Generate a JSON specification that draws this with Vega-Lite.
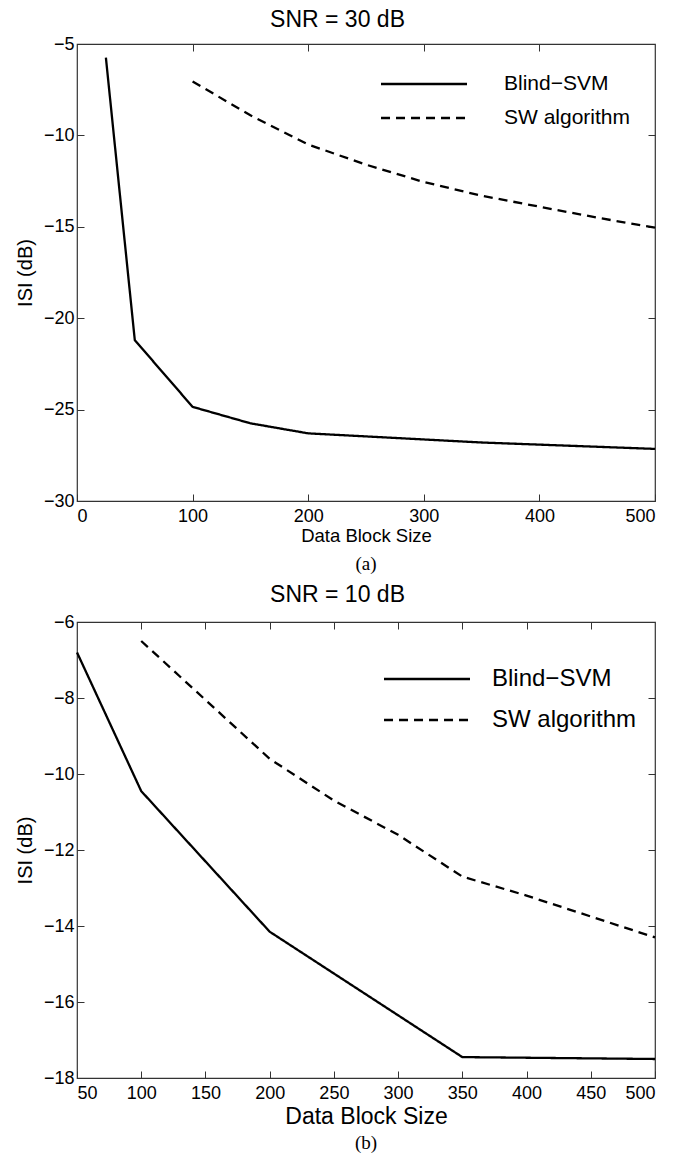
{
  "$schema": "https://vega.github.io/schema/vega-lite/v6.json",
  "background": "white",
  "padding": {"left": 14, "top": 9, "right": 5, "bottom": 0},
  "spacing": 9,
  "config": {
    "font": "Liberation Sans",
    "view": {"stroke": "#333333", "strokeWidth": 1.2},
    "axis": {
      "grid": false,
      "domain": false,
      "tickColor": "#333333",
      "tickSize": -7,
      "labelColor": "black",
      "titleColor": "black",
      "labelFontSize": 18,
      "titleFontWeight": "normal",
      "labelFont": "Liberation Sans",
      "titleFont": "Liberation Sans"
    },
    "legend": {
      "labelFont": "Liberation Sans",
      "labelColor": "black"
    },
    "title": {"font": "Liberation Sans", "fontWeight": "normal", "color": "black", "anchor": "middle"}
  },
  "resolve": {"scale": {"strokeDash": "independent"}, "legend": {"strokeDash": "independent"}},
  "vconcat": [
    {
      "title": {"text": "SNR = 30 dB", "fontSize": 23, "offset": 2, "anchor": "middle"},
      "vconcat": [
        {
          "title": {"text": "(a)", "orient": "bottom", "font": "Liberation Serif", "fontSize": 19, "offset": 10, "anchor": "middle"},
          "width": 578,
          "height": 457,
          "data": {"values": [
            {"size": 25, "isi": -5.75, "method": "Blind−SVM"},
            {"size": 50, "isi": -21.2, "method": "Blind−SVM"},
            {"size": 100, "isi": -24.85, "method": "Blind−SVM"},
            {"size": 150, "isi": -25.75, "method": "Blind−SVM"},
            {"size": 200, "isi": -26.3, "method": "Blind−SVM"},
            {"size": 350, "isi": -26.8, "method": "Blind−SVM"},
            {"size": 500, "isi": -27.15, "method": "Blind−SVM"},
            {"size": 100, "isi": -7.05, "method": "SW algorithm"},
            {"size": 150, "isi": -8.9, "method": "SW algorithm"},
            {"size": 200, "isi": -10.5, "method": "SW algorithm"},
            {"size": 250, "isi": -11.6, "method": "SW algorithm"},
            {"size": 300, "isi": -12.55, "method": "SW algorithm"},
            {"size": 350, "isi": -13.3, "method": "SW algorithm"},
            {"size": 400, "isi": -13.9, "method": "SW algorithm"},
            {"size": 450, "isi": -14.5, "method": "SW algorithm"},
            {"size": 500, "isi": -15.05, "method": "SW algorithm"}
          ]},
          "layer": [
            {
              "mark": {"type": "line", "color": "black", "strokeWidth": 2.3},
              "encoding": {
                "x": {"field": "size", "type": "quantitative",
                      "scale": {"domain": [0, 500], "nice": false, "zero": false},
                      "axis": {"title": "Data Block Size", "values": [0, 100, 200, 300, 400, 500], "titleFontSize": 18.5, "titlePadding": 1, "labelPadding": 13}},
                "y": {"field": "isi", "type": "quantitative",
                      "scale": {"domain": [-30, -5], "nice": false, "zero": false},
                      "axis": {"title": "ISI (dB)", "values": [-30, -25, -20, -15, -10, -5], "titleFontSize": 20, "titlePadding": 8, "labelPadding": 10}},
                "strokeDash": {"field": "method", "type": "nominal",
                      "scale": {"domain": ["Blind−SVM", "SW algorithm"], "range": [[1, 0], [9, 6]]},
                      "legend": {"title": null, "orient": "none", "legendX": 335, "legendY": 28,
                                 "symbolType": "M-4,0H4", "symbolSize": 462, "symbolStrokeWidth": 2.3,
                                 "symbolStrokeColor": "black", "labelFontSize": 21, "labelOffset": 68,
                                 "rowPadding": 12}}
              }
            },
            {
              "mark": {"type": "line", "strokeOpacity": 0},
              "encoding": {
                "x": {"field": "size", "type": "quantitative",
                      "axis": {"orient": "top", "labels": false, "title": null, "values": [100, 200, 300, 400]}},
                "y": {"field": "isi", "type": "quantitative",
                      "axis": {"orient": "right", "labels": false, "title": null, "values": [-25, -20, -15, -10]}}
              }
            }
          ],
          "resolve": {"axis": {"x": "independent", "y": "independent"}}
        }
      ]
    },
    {
      "title": {"text": "SNR = 10 dB", "fontSize": 23, "offset": 5, "anchor": "middle"},
      "vconcat": [
        {
          "title": {"text": "(b)", "orient": "bottom", "font": "Liberation Serif", "fontSize": 19, "offset": 6, "anchor": "middle"},
          "width": 578,
          "height": 456,
          "data": {"values": [
            {"size": 50, "isi": -6.8, "method": "Blind−SVM"},
            {"size": 100, "isi": -10.45, "method": "Blind−SVM"},
            {"size": 200, "isi": -14.15, "method": "Blind−SVM"},
            {"size": 350, "isi": -17.45, "method": "Blind−SVM"},
            {"size": 500, "isi": -17.5, "method": "Blind−SVM"},
            {"size": 100, "isi": -6.5, "method": "SW algorithm"},
            {"size": 150, "isi": -8.05, "method": "SW algorithm"},
            {"size": 200, "isi": -9.6, "method": "SW algorithm"},
            {"size": 250, "isi": -10.7, "method": "SW algorithm"},
            {"size": 300, "isi": -11.6, "method": "SW algorithm"},
            {"size": 350, "isi": -12.7, "method": "SW algorithm"},
            {"size": 400, "isi": -13.2, "method": "SW algorithm"},
            {"size": 450, "isi": -13.75, "method": "SW algorithm"},
            {"size": 500, "isi": -14.3, "method": "SW algorithm"}
          ]},
          "layer": [
            {
              "mark": {"type": "line", "color": "black", "strokeWidth": 2.3},
              "encoding": {
                "x": {"field": "size", "type": "quantitative",
                      "scale": {"domain": [50, 500], "nice": false, "zero": false},
                      "axis": {"title": "Data Block Size", "values": [50, 100, 150, 200, 250, 300, 350, 400, 450, 500], "titleFontSize": 23, "titlePadding": 3, "labelPadding": 13}},
                "y": {"field": "isi", "type": "quantitative",
                      "scale": {"domain": [-18, -6], "nice": false, "zero": false},
                      "axis": {"title": "ISI (dB)", "values": [-18, -16, -14, -12, -10, -8, -6], "titleFontSize": 20, "titlePadding": 8, "labelPadding": 10}},
                "strokeDash": {"field": "method", "type": "nominal",
                      "scale": {"domain": ["Blind−SVM", "SW algorithm"], "range": [[1, 0], [9, 6]]},
                      "legend": {"title": null, "orient": "none", "legendX": 338, "legendY": 45,
                                 "symbolType": "M-4,0H4", "symbolSize": 462, "symbolStrokeWidth": 2.3,
                                 "symbolStrokeColor": "black", "labelFontSize": 24, "labelOffset": 53,
                                 "rowPadding": 17}}
              }
            },
            {
              "mark": {"type": "line", "strokeOpacity": 0},
              "encoding": {
                "x": {"field": "size", "type": "quantitative",
                      "axis": {"orient": "top", "labels": false, "title": null, "values": [100, 150, 200, 250, 300, 350, 400, 450]}},
                "y": {"field": "isi", "type": "quantitative",
                      "axis": {"orient": "right", "labels": false, "title": null, "values": [-16, -14, -12, -10, -8]}}
              }
            }
          ],
          "resolve": {"axis": {"x": "independent", "y": "independent"}}
        }
      ]
    }
  ]
}
